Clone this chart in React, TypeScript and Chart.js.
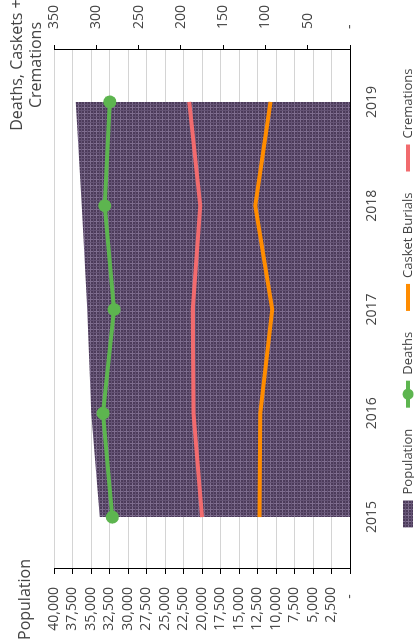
import React, { useEffect, useRef } from 'react';
import { Chart, registerables } from 'chart.js';

Chart.register(...registerables);

// ---- data ----
const categories = ['2015', '2016', '2017', '2018', '2019'];
const population = [33800, 34950, 35500, 36250, 37050];
const deaths = [281, 292, 279, 290, 284];
const casketBurials = [107, 106, 92, 112, 94];
const cremations = [175, 185, 186, 177, 190];
const populationAxis = { min: 0, max: 40000, step: 2500 };
const countAxis = { min: 0, max: 350, step: 50 };
const seriesNames = ['Population', 'Deaths', 'Casket Burials', 'Cremations'];
const leftTitle = 'Population';
const rightTitle = ['Deaths, Caskets +', 'Cremations'];

const GREEN = '#5db54f';
const ORANGE = '#ff8c00';
const RED = '#f26b6e';
const TEXT = '#444444';
const FONT = "'Open Sans', sans-serif";

function makePattern(): CanvasPattern | string {
  const c = document.createElement('canvas');
  c.width = 6;
  c.height = 6;
  const g = c.getContext('2d');
  if (!g) return '#5a4868';
  g.fillStyle = '#4c3b5a';
  g.fillRect(0, 0, 6, 6);
  g.fillStyle = '#7e6d8e';
  g.fillRect(0, 0, 6, 1);
  g.fillRect(0, 0, 1, 6);
  g.fillStyle = '#645374';
  g.fillRect(0, 3, 6, 1);
  g.fillRect(3, 0, 1, 6);
  return g.createPattern(c, 'repeat') || '#5a4868';
}

const fmt = (v: number) => (v === 0 ? '-  ' : Number(v).toLocaleString('en-US'));

export default function App() {
  const ref = useRef<HTMLCanvasElement>(null);

  useEffect(() => {
    const canvas = ref.current;
    if (!canvas) return;
    Chart.defaults.font.family = FONT;
    const pattern = makePattern();

    const extras = {
      id: 'extras',
      afterDraw(chart: any) {
        const ctx = chart.ctx as CanvasRenderingContext2D;
        ctx.save();
        ctx.fillStyle = TEXT;
        ctx.font = `16px ${FONT}`;
        ctx.textBaseline = 'alphabetic';
        ctx.textAlign = 'left';
        ctx.fillText(leftTitle, 2, 30);
        ctx.textAlign = 'center';
        ctx.fillText(rightTitle[0], 577, 22);
        ctx.fillText(rightTitle[1], 577, 41);

        // legend
        ctx.font = `13px ${FONT}`;
        ctx.textAlign = 'left';
        ctx.textBaseline = 'middle';
        const iconW = 27;
        const gap = 6;
        const itemGap = 21;
        const widths = seriesNames.map((n) => ctx.measureText(n).width);
        const total = widths.reduce((a, w) => a + iconW + gap + w, 0) + itemGap * (seriesNames.length - 1);
        let u = 344 - total / 2;
        const v = 408;
        const colors = [null, GREEN, ORANGE, RED];
        seriesNames.forEach((name, i) => {
          if (i === 0) {
            ctx.fillStyle = pattern as any;
            ctx.fillRect(u, v - 5, iconW, 10);
          } else {
            ctx.strokeStyle = colors[i] as string;
            ctx.lineWidth = 4;
            ctx.beginPath();
            ctx.moveTo(u, v);
            ctx.lineTo(u + iconW, v);
            ctx.stroke();
            if (i === 1) {
              ctx.fillStyle = GREEN;
              ctx.beginPath();
              ctx.arc(u + iconW / 2, v, 5.5, 0, Math.PI * 2);
              ctx.fill();
            }
          }
          ctx.fillStyle = TEXT;
          ctx.fillText(name, u + iconW + gap, v);
          u += iconW + gap + widths[i] + itemGap;
        });
        ctx.restore();
      },
    };

    const chart = new Chart(canvas, {
      type: 'line',
      data: {
        labels: categories,
        datasets: [
          {
            label: seriesNames[0],
            data: population,
            yAxisID: 'y',
            backgroundColor: pattern as any,
            borderColor: 'rgba(0,0,0,0)',
            borderWidth: 0,
            fill: 'origin',
            pointRadius: 0,
            tension: 0,
            order: 4,
          },
          {
            label: seriesNames[1],
            data: deaths,
            yAxisID: 'y1',
            borderColor: GREEN,
            backgroundColor: GREEN,
            borderWidth: 4,
            pointRadius: 6.5,
            pointBorderWidth: 0,
            pointBackgroundColor: GREEN,
            fill: false,
            tension: 0,
            order: 1,
          },
          {
            label: seriesNames[2],
            data: casketBurials,
            yAxisID: 'y1',
            borderColor: ORANGE,
            backgroundColor: ORANGE,
            borderWidth: 4,
            pointRadius: 0,
            fill: false,
            tension: 0,
            order: 2,
          },
          {
            label: seriesNames[3],
            data: cremations,
            yAxisID: 'y1',
            borderColor: RED,
            backgroundColor: RED,
            borderWidth: 4,
            pointRadius: 0,
            fill: false,
            tension: 0,
            order: 3,
          },
        ],
      },
      options: {
        responsive: false,
        animation: false,
        devicePixelRatio: 1,
        layout: { padding: { top: 54, bottom: 34, left: 0, right: 0 } },
        plugins: {
          legend: { display: false },
          tooltip: { enabled: false },
        },
        scales: {
          x: {
            type: 'category',
            offset: true,
            grid: { display: false, drawTicks: false },
            border: { display: true, color: '#000000', width: 1 },
            ticks: { color: TEXT, font: { size: 14 }, padding: 14, maxRotation: 0 },
            afterFit: (s: any) => {
              s.height = 30;
            },
          },
          y: {
            position: 'left',
            min: populationAxis.min,
            max: populationAxis.max,
            grid: {
              color: (c: any) => (c.tick && c.tick.value === 0 ? 'rgba(0,0,0,0)' : '#d4d4d4'),
              tickColor: '#000000',
              tickLength: 5,
              lineWidth: 1,
            },
            border: { display: true, color: '#000000', width: 1 },
            ticks: {
              stepSize: populationAxis.step,
              autoSkip: false,
              color: TEXT,
              font: { size: 14 },
              padding: 13,
              callback: (v: any) => fmt(Number(v)),
            },
            afterFit: (s: any) => {
              s.width = 73;
            },
          },
          y1: {
            position: 'right',
            min: countAxis.min,
            max: countAxis.max,
            grid: { drawOnChartArea: false, tickColor: '#000000', tickLength: 5 },
            border: { display: true, color: '#000000', width: 1 },
            ticks: {
              stepSize: countAxis.step,
              autoSkip: false,
              color: TEXT,
              font: { size: 14 },
              padding: 16,
              callback: (v: any) => (Number(v) === 0 ? '-' : Number(v).toLocaleString('en-US')),
            },
            afterFit: (s: any) => {
              s.width = 50;
            },
          },
        },
      },
      plugins: [extras],
    });

    return () => chart.destroy();
  }, []);

  return (
    <div
      style={{
        position: 'fixed',
        left: 0,
        top: 0,
        width: 414,
        height: 642,
        overflow: 'hidden',
        background: '#ffffff',
      }}
    >
      <div
        style={{
          position: 'absolute',
          left: 0,
          top: 0,
          width: 642,
          height: 414,
          transformOrigin: '0 0',
          transform: 'translate(0px, 642px) rotate(-90deg)',
        }}
      >
        <canvas ref={ref} width={642} height={414} style={{ width: 642, height: 414, display: 'block' }} />
      </div>
    </div>
  );
}
